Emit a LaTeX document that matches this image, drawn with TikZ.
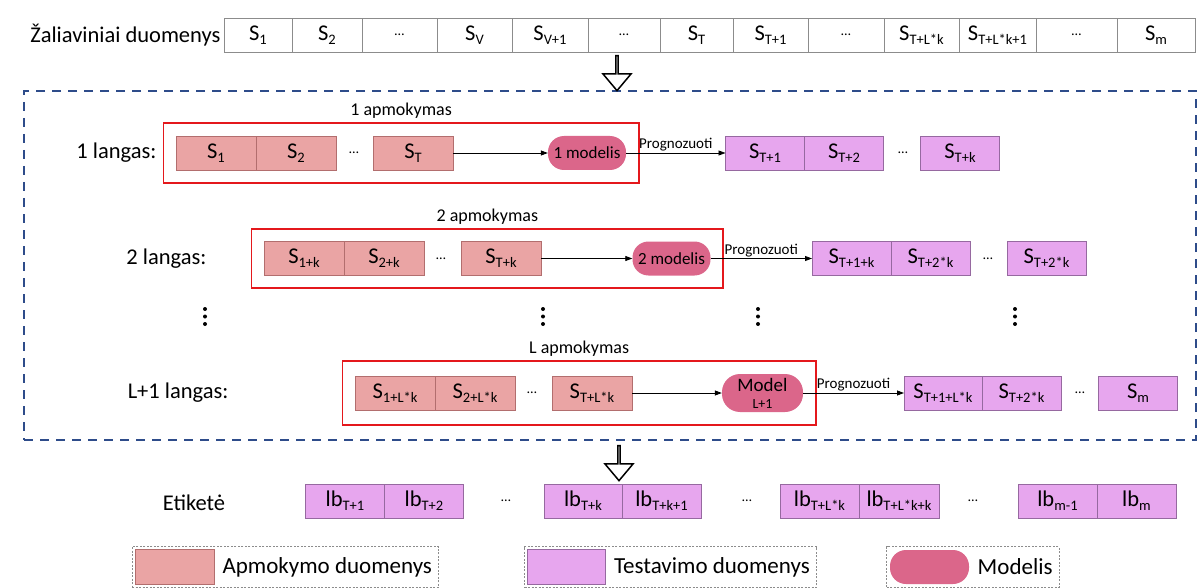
\documentclass[tikz,border=0pt]{standalone}
\usepackage{fontspec}
\setmainfont{Carlito}
\usetikzlibrary{positioning,fit,arrows.meta,shapes.arrows}

\definecolor{trainfill}{RGB}{234,164,164}
\definecolor{trainline}{RGB}{178,110,110}
\definecolor{testfill}{RGB}{231,166,238}
\definecolor{testline}{RGB}{150,105,160}
\definecolor{modelfill}{RGB}{219,102,138}
\definecolor{framered}{RGB}{228,24,28}
\definecolor{winblue}{RGB}{46,76,138}
\definecolor{rawline}{RGB}{140,140,140}

\newcommand{\Sd}[1]{S\raisebox{-0.4ex}{\fontsize{14.5}{14}\selectfont #1}}
\newcommand{\Lbd}[1]{lb\raisebox{-0.4ex}{\fontsize{14.5}{14}\selectfont #1}}
\newcommand{\elp}{{\fontsize{14}{14}\selectfont …}}

\begin{document}
\begin{tikzpicture}[
    x=1pt, y=-1pt,
    font=\fontsize{22.5}{26}\selectfont,
    cell/.style={
        draw,
        minimum height=34pt,
        inner sep=0pt,
        outer sep=0pt,
        line width=0.8pt
    },
    raw/.style={cell, draw=rawline, fill=white},
    train/.style={cell, draw=trainline, fill=trainfill, minimum width=80pt},
    test/.style={cell, draw=testline, fill=testfill, minimum width=79pt},
    model/.style={
        fill=modelfill,
        rounded corners=16pt,
        minimum width=78pt,
        minimum height=34pt,
        inner sep=0pt,
        font=\fontsize{17}{18}\selectfont
    },
    frame/.style={draw=framered, line width=1.8pt, inner sep=12.5pt},
    win/.style={draw=winblue, dash pattern=on 9pt off 7pt, line width=1.6pt, inner sep=0pt},
    arrow/.style={-{Triangle[length=7pt,width=5pt]}, line width=0.8pt},
    bigdown/.style={
        single arrow,
        draw,
        line width=1.5pt,
        fill=white,
        rotate=-90,
        minimum height=35pt,
        minimum width=28pt,
        single arrow head extend=9pt,
        single arrow tip angle=80,
        inner sep=0pt
    },
    ttl/.style={font=\fontsize{18}{20}\selectfont},
    pred/.style={font=\fontsize{15}{16}\selectfont, inner sep=1.5pt},
    legtxt/.style={font=\fontsize{23}{26}\selectfont},
    legbox/.style={draw=rawline, dash pattern=on 2pt off 1.5pt, line width=0.8pt, inner sep=3pt}
]
\useasboundingbox (0,0) rectangle (1204,588);

% ============================================================
% ŽALIAVINIAI DUOMENYS
% ============================================================
\node[raw, minimum width=68pt]                  (r1)  at (258,35) {\Sd{1}};
\node[raw, minimum width=70pt, right=0pt of r1]  (r2)  {\Sd{2}};
\node[raw, minimum width=75pt, right=0pt of r2]  (r3)  {\elp};
\node[raw, minimum width=75pt, right=0pt of r3]  (r4)  {\Sd{V}};
\node[raw, minimum width=76pt, right=0pt of r4]  (r5)  {\Sd{V+1}};
\node[raw, minimum width=72pt, right=0pt of r5]  (r6)  {\elp};
\node[raw, minimum width=73pt, right=0pt of r6]  (r7)  {\Sd{T}};
\node[raw, minimum width=75pt, right=0pt of r7]  (r8)  {\Sd{T+1}};
\node[raw, minimum width=76pt, right=0pt of r8]  (r9)  {\elp};
\node[raw, minimum width=75pt, right=0pt of r9]  (r10) {\Sd{T+L*k}};
\node[raw, minimum width=77pt, right=0pt of r10] (r11) {\Sd{T+L*k+1}};
\node[raw, minimum width=81pt, right=0pt of r11] (r12) {\elp};
\node[raw, minimum width=78pt, right=0pt of r12] (r13) {\Sd{m}};
\node[left=0pt of r1] (raw) {Žaliaviniai duomenys};

% langų sritis
\node[win, minimum width=1172pt, minimum height=349pt] (win) at (610,265.5) {};
\node[bigdown] (down1) at (617,72.5) {};

% ============================================================
% 1 LANGAS
% ============================================================
\node[train]                    (a11) at (216,153) {\Sd{1}};
\node[train, right=0pt of a11]  (a12) {\Sd{2}};
\node                           (x11) at (354,153) {\elp};
\node[train]                    (a13) at (413,153) {\Sd{T}};
\node[model]                    (m1)  at (587,153) {1 modelis};
\node[frame, fit=(a11)(m1)]     (f1)  {};
\node[ttl, above=0pt of f1]     (ap1) {1 apmokymas};
\node[anchor=east]              (lw1) at (160,153) {1 langas:};

\node[test]                     (t11) at (765,153) {\Sd{T+1}};
\node[test, right=0pt of t11]   (t12) {\Sd{T+2}};
\node                           (x12) at (903,153) {\elp};
\node[test]                     (t13) at (960,153) {\Sd{T+k}};

% ============================================================
% 2 LANGAS
% ============================================================
\node[train]                    (a21) at (304,258.5) {\Sd{1+k}};
\node[train, right=0pt of a21]  (a22) {\Sd{2+k}};
\node                           (x21) at (441,258.5) {\elp};
\node[train]                    (a23) at (501,258.5) {\Sd{T+k}};
\node[model]                    (m2)  at (671.5,258.5) {2 modelis};
\node[frame, fit=(a21)(m2)]     (f2)  {};
\node[ttl, above=0pt of f2]     (ap2) {2 apmokymas};
\node[anchor=east]              (lw2) at (210,258.5) {2 langas:};

\node[test]                     (t21) at (851.5,258.5) {\Sd{T+1+k}};
\node[test, right=0pt of t21]   (t22) {\Sd{T+2*k}};
\node                           (x22) at (988,258.5) {\elp};
\node[test]                     (t23) at (1046.5,258.5) {\Sd{T+2*k}};

% tarpiniai langai (trys taškai)
\foreach \x in {205,543,758,1015}
    \foreach \y in {309,316.5,324}
        \fill (\x,\y) circle (2pt);

% ============================================================
% L+1 LANGAS
% ============================================================
\node[train]                    (a31) at (395,393) {\Sd{1+L*k}};
\node[train, right=0pt of a31]  (a32) {\Sd{2+L*k}};
\node                           (x31) at (532,393) {\elp};
\node[train]                    (a33) at (592,393) {\Sd{T+L*k}};
\node[model, minimum width=81pt, minimum height=38pt, rounded corners=18pt,
      align=center, font=\fontsize{19}{17}\selectfont] (m3) at (762.5,393)
    {Model\\{\fontsize{14}{14}\selectfont L+1}};
\node[frame, fit=(a31)(m3)]     (f3)  {};
\node[ttl, above=0pt of f3]     (ap3) {L apmokymas};
\node[anchor=east]              (lw3) at (232,393) {L+1 langas:};

\node[test, minimum width=78pt] (t31) at (943,393) {\Sd{T+1+L*k}};
\node[test, right=0pt of t31]   (t32) {\Sd{T+2*k}};
\node                           (x32) at (1080,393) {\elp};
\node[test]                     (t33) at (1138,393) {\Sd{m}};

% ============================================================
% JUNGTYS
% ============================================================
\draw[arrow] (a13) -- (m1);
\draw[arrow] (m1)  -- node[pred, above] {Prognozuoti} (t11);
\draw[arrow] (a23) -- (m2);
\draw[arrow] (m2)  -- node[pred, above] {Prognozuoti} (t21);
\draw[arrow] (a33) -- (m3);
\draw[arrow] (m3)  -- node[pred, above] {Prognozuoti} (t31);

% ============================================================
% ETIKETĖS
% ============================================================
\node[bigdown] (down2) at (619,462.5) {};

\node[test]                              (e1) at (345,501) {\Lbd{T+1}};
\node[test, right=0pt of e1]             (e2) {\Lbd{T+2}};
\node                                    (y1) at (506,501) {\elp};
\node[test, minimum width=78pt]          (e3) at (583,501) {\Lbd{T+k}};
\node[test, right=0pt of e3]             (e4) {\Lbd{T+k+1}};
\node                                    (y2) at (747,501) {\elp};
\node[test]                              (e5) at (819.5,501) {\Lbd{T+L*k}};
\node[test, minimum width=80pt, right=0pt of e5] (e6) {\Lbd{T+L*k+k}};
\node                                    (y3) at (973,501) {\elp};
\node[test]                              (e7) at (1057.5,501) {\Lbd{m-1}};
\node[test, right=0pt of e7]             (e8) {\Lbd{m}};
\node (etk) at (194,503) {Etiketė};

% ============================================================
% LEGENDA
% ============================================================
\node[train, minimum width=79pt, minimum height=35pt] (sw1) at (174.5,567) {};
\node[legtxt, right=5pt of sw1] (lt1) {Apmokymo duomenys};
\node[legbox, fit=(sw1)(lt1)]   (lg1) {};

\node[test, minimum width=78pt, minimum height=35pt] (sw2) at (566.5,567) {};
\node[legtxt, right=5pt of sw2] (lt2) {Testavimo duomenys};
\node[legbox, fit=(sw2)(lt2)]   (lg2) {};

\node[model, minimum width=79pt] (sw3) at (929.5,567) {};
\node[legtxt, right=5pt of sw3] (lt3) {Modelis};
\node[legbox, fit=(sw3)(lt3)]   (lg3) {};

\end{tikzpicture}
\end{document}
